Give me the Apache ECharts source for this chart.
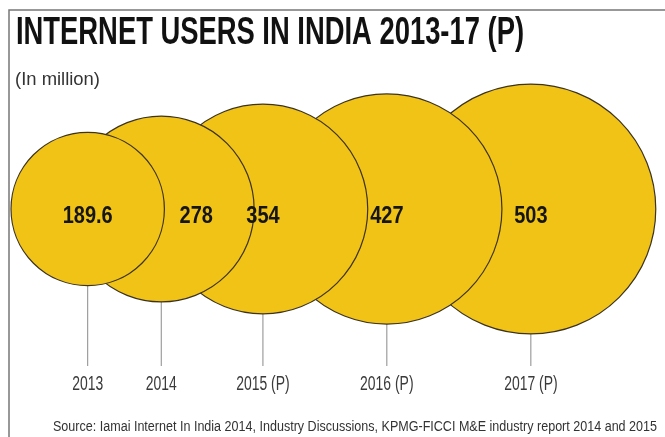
<!DOCTYPE html>
<html><head><meta charset="utf-8">
<script src="https://cdn.jsdelivr.net/npm/echarts@6/dist/echarts.min.js"></script>
<style>html,body{margin:0;padding:0;background:#fff}#c{width:665px;height:437px}</style>
</head><body><div id="c"></div>
<script>
// ---- data ----
const years = ['2013', '2014', '2015 (P)', '2016 (P)', '2017 (P)'];
const users = [189.6, 278, 354, 427, 503];   // internet users, million
const valueLabels = ['189.6', '278', '354', '427', '503'];
const titleText = 'INTERNET USERS IN INDIA 2013-17 (P)';
const unitText = '(In million)';
const sourceText = 'Source: Iamai Internet In India 2014, Industry Discussions, KPMG-FICCI M&E industry report 2014 and 2015';

// ---- layout ----
const W = 665, H = 437;
const K = 5.57;          // px of radius per sqrt(million) (area-proportional bubbles)
const OVERLAP = 96;      // each bubble overlaps the previous one by this many px
const FIRST_LEFT = 11;
const CENTER_Y = 209;
const LINE_END_Y = 366;
const YEAR_Y = 384.5;
const VALUE_DY = 7.5;
const FAMILY = "'Liberation Sans', Arial, sans-serif";

// horizontal condensing factor so a text fits a target width
const mctx = document.createElement('canvas').getContext('2d');
function fitScale(text, weight, size, target) {
  mctx.font = weight + ' ' + size + 'px ' + FAMILY;
  return target / mctx.measureText(text).width;
}
const TITLE_SIZE = 39, UNIT_SIZE = 18, YEAR_SIZE = 20, VALUE_SIZE = 24, SOURCE_SIZE = 14;
const titleScale = fitScale(titleText, 'bold', TITLE_SIZE, 508);
const unitScale = fitScale(unitText, 'normal', UNIT_SIZE, 85);
const yearScale = fitScale('2013', 'normal', YEAR_SIZE, 31);
const valueScale = fitScale('189.6', 'bold', VALUE_SIZE, 50);
const sourceScale = fitScale(sourceText, 'normal', SOURCE_SIZE, 604);

const radius = users.map(v => K * Math.sqrt(v));
const cx = [];
radius.forEach((r, i) => {
  cx.push(i === 0 ? FIRST_LEFT + r : cx[i - 1] + radius[i - 1] + r - OVERLAP);
});
const labelDx = users.map((v, i) => i === 1 ? 35 : 0);

// draw bigger/later bubbles first, so 2013 sits on top
const bubbleData = [];
for (let i = users.length - 1; i >= 0; i--) bubbleData.push([cx[i], CENTER_Y, users[i]]);
const pointData = users.map((v, i) => [cx[i], CENTER_Y, i]);

const chart = echarts.init(document.getElementById('c'), null, { renderer: 'canvas' });
chart.setOption({
  animation: false,
  backgroundColor: '#fff',
  graphic: [
    { type: 'polyline', shape: { points: [[9, H], [9, 10], [W, 10]] },
      style: { stroke: '#777', lineWidth: 1.5, fill: null }, z: 0 },
    { type: 'text', x: 16, y: 33.5, scaleX: titleScale, z: 5,
      style: { text: titleText, x: 0, y: 0, align: 'left', verticalAlign: 'middle',
        font: 'bold ' + TITLE_SIZE + 'px ' + FAMILY, fill: '#111' } },
    { type: 'text', x: 15, y: 80, scaleX: unitScale, z: 5,
      style: { text: unitText, x: 0, y: 0, align: 'left', verticalAlign: 'middle',
        font: 'normal ' + UNIT_SIZE + 'px ' + FAMILY, fill: '#333' } },
    { type: 'text', x: 657, y: 427, scaleX: sourceScale, z: 5,
      style: { text: sourceText, x: 0, y: 0, align: 'right', verticalAlign: 'middle',
        font: 'normal ' + SOURCE_SIZE + 'px ' + FAMILY, fill: '#333' } }
  ],
  grid: { left: 0, right: 0, top: 0, bottom: 0 },
  xAxis: { type: 'value', min: 0, max: W, show: false },
  yAxis: { type: 'value', min: 0, max: H, inverse: true, show: false },
  series: [
    {
      type: 'custom',
      z: 1,
      silent: true,
      data: pointData,
      renderItem: function (params, api) {
        const top = api.coord([api.value(0), api.value(1)]);
        const bot = api.coord([api.value(0), LINE_END_Y]);
        const lab = api.coord([api.value(0), YEAR_Y]);
        return {
          type: 'group',
          children: [
            { type: 'line', shape: { x1: top[0], y1: top[1], x2: bot[0], y2: bot[1] },
              style: { stroke: '#8a8a8a', lineWidth: 1 } },
            { type: 'text', x: lab[0], y: lab[1], scaleX: yearScale,
              style: { text: years[api.value(2)], x: 0, y: 0, align: 'center', verticalAlign: 'middle',
                font: 'normal ' + YEAR_SIZE + 'px ' + FAMILY, fill: '#3a3a3a' } }
          ]
        };
      }
    },
    {
      type: 'scatter',
      z: 2,
      silent: true,
      data: bubbleData,
      symbol: 'circle',
      symbolSize: function (val) { return 2 * K * Math.sqrt(val[2]); },
      itemStyle: { color: '#F1C316', borderColor: '#3b3222', borderWidth: 1.2, opacity: 1 }
    },
    {
      type: 'custom',
      z: 3,
      silent: true,
      data: pointData,
      renderItem: function (params, api) {
        const i = api.value(2);
        const p = api.coord([api.value(0), api.value(1)]);
        return { type: 'text', x: p[0] + labelDx[i], y: p[1] + VALUE_DY, scaleX: valueScale,
          style: { text: valueLabels[i], x: 0, y: 0, align: 'center', verticalAlign: 'middle',
            font: 'bold ' + VALUE_SIZE + 'px ' + FAMILY, fill: '#151515' } };
      }
    }
  ]
});
</script>
</body></html>
